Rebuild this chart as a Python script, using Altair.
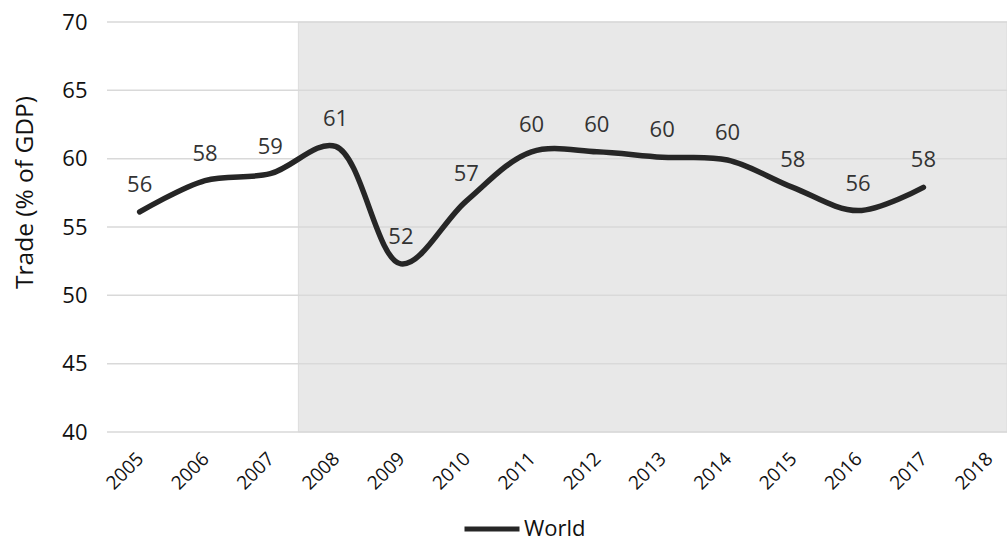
import altair as alt
import pandas as pd

# World trade as a share of GDP, by year
years = [2005, 2006, 2007, 2008, 2009, 2010, 2011, 2012, 2013, 2014, 2015, 2016, 2017]
trade = [56.1, 58.4, 58.9, 60.9, 52.3, 56.9, 60.5, 60.5, 60.1, 59.9, 57.9, 56.2, 57.9]
labels = ["56", "58", "59", "61", "52", "57", "60", "60", "60", "60", "58", "56", "58"]

axis_years = list(range(2005, 2019))
y_ticks = [40, 45, 50, 55, 60, 65, 70]

# visible year range of the x axis and the shaded period (from 2008 on)
x_min, x_max = 2004.5, 2018.28
shade_start = 2007.43

FONT = "Open Sans"
INK = "#111111"

df = pd.DataFrame({"year": years, "trade": trade, "label": labels, "series": "World"})
shade = pd.DataFrame({"x": [shade_start], "x2": [x_max], "y": [40], "y2": [70]})
grid = pd.DataFrame({"v": y_ticks})

x_scale = alt.Scale(domain=[x_min, x_max], nice=False, zero=False)
y_scale = alt.Scale(domain=[40, 70], nice=False, zero=False)

x_axis = alt.Axis(
    values=axis_years, format="d", labelAngle=315, labelFontSize=19,
    labelFont=FONT, labelColor=INK, domain=False, ticks=False,
    grid=False, title=None, labelPadding=17, labelOffset=-6,
)
y_axis = alt.Axis(
    values=y_ticks, labelFontSize=22, labelFont=FONT, labelColor=INK,
    domain=False, ticks=False, grid=False, labelPadding=20,
    title="Trade (% of GDP)", titleFont=FONT, titleFontSize=24.5,
    titleFontWeight="normal", titleColor=INK,
    titleX=-82, titleY=170, titleAngle=270,
    titleAlign="center", titleBaseline="middle",
)

band = alt.Chart(shade).mark_rect(color="#e8e8e8", stroke="#dddddd", strokeWidth=1).encode(
    x=alt.X("x:Q", scale=x_scale, axis=x_axis),
    x2="x2:Q",
    y=alt.Y("y:Q", scale=y_scale, axis=y_axis),
    y2="y2:Q",
)

gridlines = alt.Chart(grid).mark_rule(color="#d9d9d9", strokeWidth=1.5).encode(
    y=alt.Y("v:Q", scale=y_scale),
    x=alt.value(0),
    x2=alt.value(900),
)

line = alt.Chart(df).mark_line(
    interpolate="catmull-rom", strokeWidth=5.5, strokeCap="round"
).encode(
    x=alt.X("year:Q", scale=x_scale),
    y=alt.Y("trade:Q", scale=y_scale),
    color=alt.Color(
        "series:N",
        scale=alt.Scale(domain=["World"], range=["#262626"]),
        legend=alt.Legend(
            title=None, orient="none", legendX=355, legendY=477,
            symbolType="stroke", symbolSize=3025, symbolStrokeWidth=5,
            labelOffset=2, labelFont=FONT, labelFontSize=22, labelColor=INK,
        ),
    ),
)

text = alt.Chart(df).mark_text(
    dy=-27, fontSize=22, font=FONT, color="#333333"
).encode(
    x=alt.X("year:Q", scale=x_scale),
    y=alt.Y("trade:Q", scale=y_scale),
    text="label:N",
)

chart = alt.layer(band, gridlines, line, text).properties(
    width=900,
    height=410,
    autosize=alt.AutoSizeParams(type="none"),
    padding={"left": 107, "top": 22, "right": 0, "bottom": 110},
).configure_view(stroke=None)

chart.save("out.html", embed_options={"renderer": "svg", "actions": False})
